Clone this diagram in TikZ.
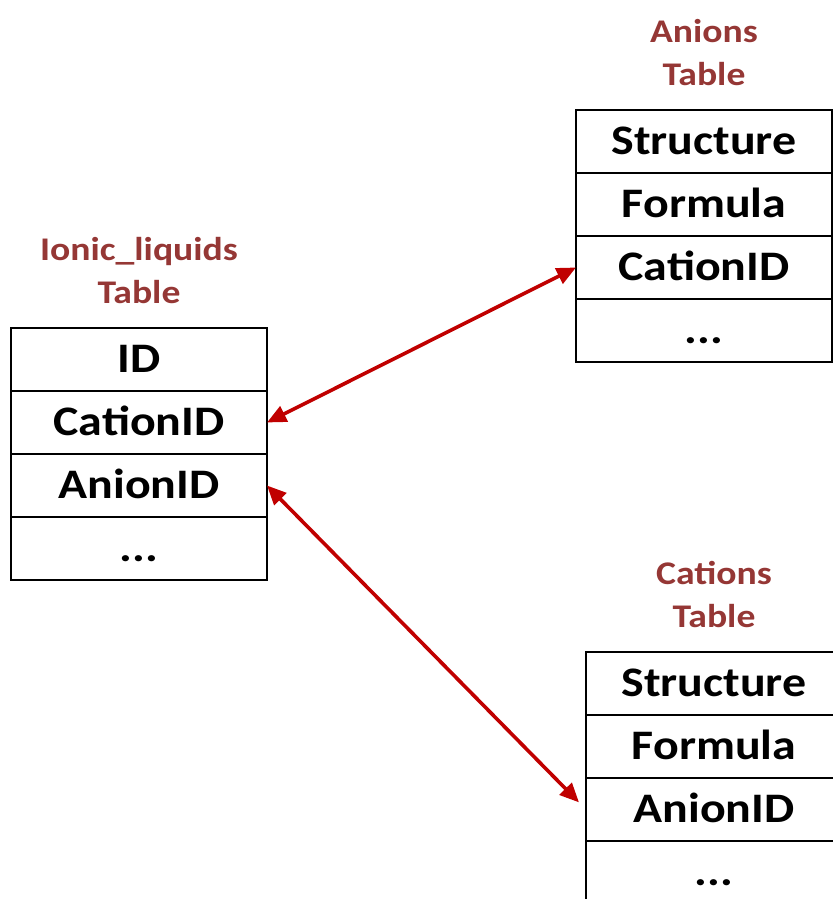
\documentclass[tikz,border=0pt]{standalone}
\usepackage{fontspec}
\setmainfont{Carlito}[FakeStretch=1.14]
\usepackage{xcolor}
\usepackage{tikz}
\usetikzlibrary{shapes,arrows.meta,positioning}

\definecolor{titlered}{HTML}{953735}
\definecolor{linkred}{HTML}{C00000}

\tikzset{
    field/.style={
        draw,
        line width=0.5mm,
        minimum width=6.4cm,
        minimum height=1.575cm,
        inner sep=0pt,
        outer sep=0pt,
        text height=19.1pt,
        text depth=0pt,
        font=\fontsize{29.9}{36}\selectfont\bfseries
    },
    tabletitle/.style={
        align=center,
        text=titlered,
        inner sep=0pt,
        outer sep=0pt,
        font=\fontsize{23.5}{30.6}\selectfont\bfseries
    },
    link/.style={
        {Triangle[length=0.48cm,width=0.42cm]}-{Triangle[length=0.48cm,width=0.42cm]},
        line width=0.9mm,
        color=linkred
    }
}

\begin{document}
\begin{tikzpicture}
                \useasboundingbox (0,0) rectangle (20.825,22.475);

                \node[field] (il1) at (3.475,13.4875) {ID};
                \node[field, below=0pt of il1] (il2) {CationID};
                \node[field, below=0pt of il2] (il3) {AnionID};
                \node[field, below=0pt of il3] (il4) {...};
                \node[tabletitle, above=0.6cm of il1] (iltitle) {Ionic\_liquids\\Table};

                \node[field] (an1) at (17.6,18.9375) {Structure};
                \node[field, below=0pt of an1] (an2) {Formula};
                \node[field, below=0pt of an2] (an3) {CationID};
                \node[field, below=0pt of an3] (an4) {...};
                \node[tabletitle, above=0.6cm of an1] (antitle) {Anions\\Table};

                \node[field] (ca1) at (17.85,5.3875) {Structure};
                \node[field, below=0pt of ca1] (ca2) {Formula};
                \node[field, below=0pt of ca2] (ca3) {AnionID};
                \node[field, below=0pt of ca3] (ca4) {...};
                \node[tabletitle, above=0.6cm of ca1] (catitle) {Cations\\Table};

                \draw[
                    link
                ] (il2.east) to (an3.west);

                \draw[
                    link,
                    shorten >=0.25cm
                ] (il3.east) to (ca3.west);

\end{tikzpicture}
\end{document}
